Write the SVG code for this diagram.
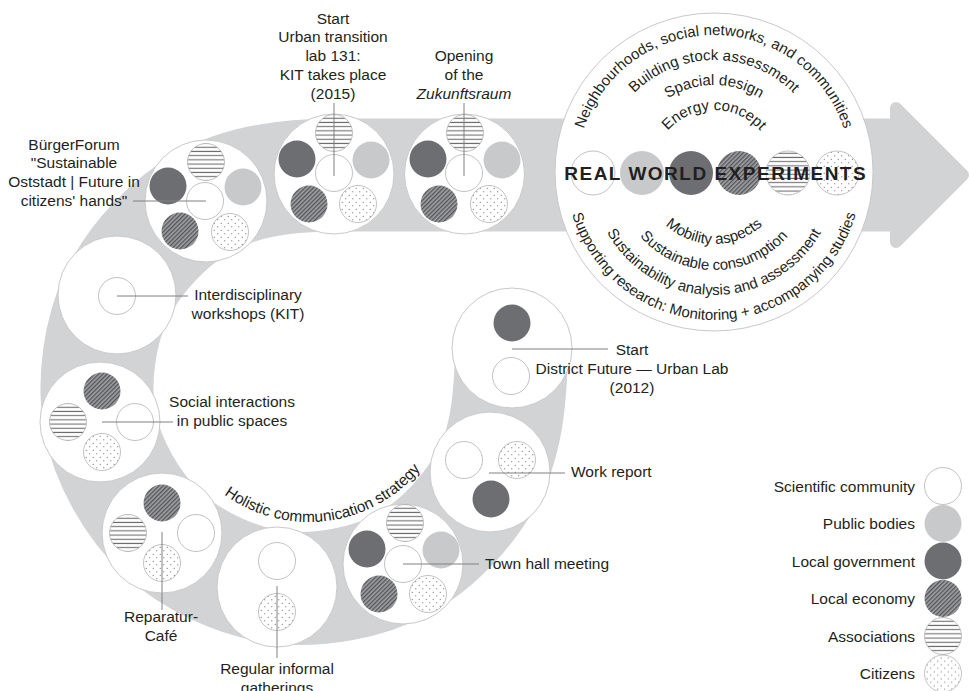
<svg xmlns="http://www.w3.org/2000/svg" width="969" height="691" viewBox="0 0 969 691">
<defs>
<style>
text{font-family:"Liberation Sans",Arial,sans-serif;font-size:15.5px;fill:#231f20}
.m{text-anchor:middle}
.e{text-anchor:end}
.big{fill:#fff;stroke:#c9c9c9;stroke-width:1}
.sci{fill:#fff;stroke:#b3b3b3;stroke-width:0.8}
.pub{fill:#c8c9cb}
.gov{fill:#6d6e71}
.eco{fill:url(#hatch)}
.ass{fill:url(#lines);stroke:#b3b3b3;stroke-width:0.8}
.cit{fill:url(#dots);stroke:#b3b3b3;stroke-width:0.8}
.lead{stroke:#808080;stroke-width:1;fill:none}
.band{fill:none;stroke:#d2d3d5}
.arc{font-size:15px}
.rwe{font-weight:bold;font-size:19px;letter-spacing:1.5px}
</style>
<pattern id="hatch" patternUnits="userSpaceOnUse" width="3" height="3" patternTransform="rotate(-45)"><rect width="3" height="3" fill="#a0a1a4"/><rect width="3" height="1.3" fill="#525355"/></pattern>
<pattern id="lines" patternUnits="userSpaceOnUse" width="10" height="4.2"><rect width="10" height="4.2" fill="#fff"/><rect y="1.5" width="10" height="1.1" fill="#6d6e71"/></pattern>
<pattern id="dots" patternUnits="userSpaceOnUse" width="7" height="7"><rect width="7" height="7" fill="#fff"/><circle cx="1.75" cy="1.75" r="0.6" fill="#58595b"/><circle cx="5.25" cy="5.25" r="0.6" fill="#58595b"/></pattern>
<circle id="sci" r="18.5" class="sci"/>
<circle id="pub" r="18.5" class="pub"/>
<circle id="gov" r="18.5" class="gov"/>
<circle id="eco" r="18.5" class="eco"/>
<circle id="ass" r="18.5" class="ass"/>
<circle id="cit" r="18.5" class="cit"/>
<path id="t1" d="M652,172 A62,62 0 0 1 776,172"/>
<path id="t2" d="M627,172 A87,87 0 0 1 801,172"/>
<path id="t3" d="M602,172 A112,112 0 0 1 826,172"/>
<path id="t4" d="M577,172 A137,137 0 0 1 851,172"/>
<path id="b1" d="M642,172 A72,72 0 0 0 786,172"/>
<path id="b2" d="M616,172 A98,98 0 0 0 812,172"/>
<path id="b3" d="M591,172 A123,123 0 0 0 837,172"/>
<path id="b4" d="M566,172 A148,148 0 0 0 862,172"/>
<path id="hol" d="M198.7,470.6 A144,144 0 0 0 439.1,439.8"/>
</defs>

<g id="band">
<path class="band" stroke-width="113" d="M512,348 C510.3,391.3 508.2,436 490,472 C471.8,508 438.5,544.8 403,564 C367.5,583.2 317.2,592.2 277,587 C236.8,581.8 191.5,560.5 162,533 C132.5,505.5 107.5,461.7 100,422 C92.5,382.3 99.3,331.8 117,295 C134.7,258.2 169.8,221 206,201 C242.2,181 290.7,175 334,175 L900,175"/>
<path d="M896,108 L963,175 L896,242 Z" fill="#d2d3d5" stroke="#d2d3d5" stroke-width="12" stroke-linejoin="round"/>
<text class="m"><textPath href="#hol" startOffset="50%">Holistic communication strategy</textPath></text>
</g>

<g id="district-future">
<circle class="big" cx="512" cy="348" r="60"/>
<use href="#gov" x="512" y="323"/>
<use href="#sci" x="511" y="376"/>
<text class="m"><tspan x="632" y="355">Start</tspan><tspan x="632" y="374">District Future — Urban Lab</tspan><tspan x="632" y="393">(2012)</tspan></text>
</g>

<g id="work-report">
<circle class="big" cx="490" cy="472" r="60"/>
<use href="#sci" x="464" y="460"/>
<use href="#cit" x="517" y="460"/>
<use href="#gov" x="491" y="499"/>
<text x="571" y="477">Work report</text>
</g>

<g id="town-hall">
<circle class="big" cx="403" cy="564" r="60"/>
<use href="#ass" x="405" y="523"/>
<use href="#gov" x="367" y="549"/>
<use href="#pub" x="441" y="550"/>
<use href="#sci" x="403" y="564"/>
<use href="#eco" x="379" y="594"/>
<use href="#cit" x="428" y="594"/>
<text x="485" y="568.5">Town hall meeting</text>
</g>

<g id="regular-gatherings">
<circle class="big" cx="277" cy="587" r="60"/>
<use href="#sci" x="277" y="561"/>
<use href="#cit" x="277" y="612"/>
<text class="m"><tspan x="277" y="674">Regular informal</tspan><tspan x="277" y="693">gatherings</tspan></text>
</g>

<g id="reparatur-cafe">
<circle class="big" cx="162" cy="533" r="60"/>
<use href="#eco" x="162" y="503"/>
<use href="#ass" x="128" y="533"/>
<use href="#sci" x="196" y="533"/>
<use href="#cit" x="162" y="563"/>
<text class="m"><tspan x="161" y="622">Reparatur-</tspan><tspan x="161" y="641">Café</tspan></text>
</g>

<g id="social-interactions">
<circle class="big" cx="100" cy="422" r="60"/>
<use href="#eco" x="102" y="391"/>
<use href="#ass" x="68" y="422"/>
<use href="#sci" x="135" y="422"/>
<use href="#cit" x="102" y="452"/>
<text class="m"><tspan x="232" y="407">Social interactions</tspan><tspan x="232" y="426">in public spaces</tspan></text>
</g>

<g id="interdisciplinary-workshops">
<circle class="big" cx="117" cy="295" r="59"/>
<use href="#sci" x="117" y="296"/>
<text class="m"><tspan x="248" y="300">Interdisciplinary</tspan><tspan x="248" y="319">workshops (KIT)</tspan></text>
</g>

<g id="buergerforum">
<circle class="big" cx="206" cy="201" r="61"/>
<use href="#ass" x="206" y="162"/>
<use href="#gov" x="168" y="186"/>
<use href="#pub" x="243" y="187"/>
<use href="#sci" x="205" y="201"/>
<use href="#eco" x="180" y="231"/>
<use href="#cit" x="230" y="232"/>
<text class="m"><tspan x="74" y="149.5">BürgerForum</tspan><tspan x="74" y="168.3">"Sustainable</tspan><tspan x="74" y="187">Oststadt | Future in</tspan><tspan x="74" y="205.8">citizens' hands"</tspan></text>
</g>

<g id="urban-transition-lab">
<circle class="big" cx="334" cy="174" r="60"/>
<use href="#ass" x="334" y="133"/>
<use href="#gov" x="297" y="159"/>
<use href="#pub" x="371" y="160"/>
<use href="#sci" x="334" y="173"/>
<use href="#eco" x="309" y="204"/>
<use href="#cit" x="358" y="204"/>
<text class="m"><tspan x="333" y="23.5">Start</tspan><tspan x="333" y="42.3">Urban transition</tspan><tspan x="333" y="61">lab 131:</tspan><tspan x="333" y="79.8">KIT takes place</tspan><tspan x="333" y="98.5">(2015)</tspan></text>
</g>

<g id="zukunftsraum">
<circle class="big" cx="464.5" cy="174" r="60"/>
<use href="#ass" x="465" y="133"/>
<use href="#gov" x="428" y="159"/>
<use href="#pub" x="502" y="160"/>
<use href="#sci" x="464" y="173"/>
<use href="#eco" x="439" y="204"/>
<use href="#cit" x="489" y="204"/>
<text class="m"><tspan x="464" y="61">Opening</tspan><tspan x="464" y="79.8">of the</tspan><tspan x="464" y="98.5" font-style="italic">Zukunftsraum</tspan></text>
</g>

<g id="real-world-experiments">
<circle class="big" cx="714" cy="172" r="159"/>
<text class="m arc"><textPath href="#t4" startOffset="50%">Neighbourhoods, social networks, and communities</textPath></text>
<text class="m arc"><textPath href="#t3" startOffset="50%">Building stock assessment</textPath></text>
<text class="m arc"><textPath href="#t2" startOffset="50%">Spacial design</textPath></text>
<text class="m arc"><textPath href="#t1" startOffset="50%">Energy concept</textPath></text>
<circle class="sci" cx="593" cy="173" r="22"/>
<circle class="pub" cx="642" cy="173" r="22"/>
<circle class="gov" cx="691" cy="173" r="22"/>
<circle class="eco" cx="739" cy="173" r="22"/>
<circle class="ass" cx="788" cy="173" r="22"/>
<circle class="cit" cx="837" cy="173" r="22"/>
<text class="m rwe" x="715.7" y="180">REAL WORLD EXPERIMENTS</text>
<text class="m arc" font-size="16"><textPath href="#b1" startOffset="50%">Mobility aspects</textPath></text>
<text class="m arc"><textPath href="#b2" startOffset="50%">Sustainable consumption</textPath></text>
<text class="m arc"><textPath href="#b3" startOffset="50%">Sustainability analysis and assessment</textPath></text>
<text class="m arc"><textPath href="#b4" startOffset="50%">Supporting research: Monitoring + accompanying studies</textPath></text>
</g>

<g id="connectors">
<path class="lead" d="M133,201 H206"/>
<path class="lead" d="M334,103 V176"/>
<path class="lead" d="M464,103 V176"/>
<path class="lead" d="M117,296 H188"/>
<path class="lead" d="M102,422 H173"/>
<path class="lead" d="M162,532 V610"/>
<path class="lead" d="M277,586 V658"/>
<path class="lead" d="M403,564 H479"/>
<path class="lead" d="M489,473 H565"/>
<path class="lead" d="M512,349 H608"/>
</g>

<g id="legend">
<use href="#sci" x="943" y="486"/>
<use href="#pub" x="943" y="523.5"/>
<use href="#gov" x="943" y="561"/>
<use href="#eco" x="943" y="598.5"/>
<use href="#ass" x="943" y="636"/>
<use href="#cit" x="943" y="673.5"/>
<text class="e" x="915" y="492">Scientific community</text>
<text class="e" x="915" y="529">Public bodies</text>
<text class="e" x="915" y="566.5">Local government</text>
<text class="e" x="915" y="604">Local economy</text>
<text class="e" x="915" y="641.5">Associations</text>
<text class="e" x="915" y="679">Citizens</text>
</g>
</svg>
